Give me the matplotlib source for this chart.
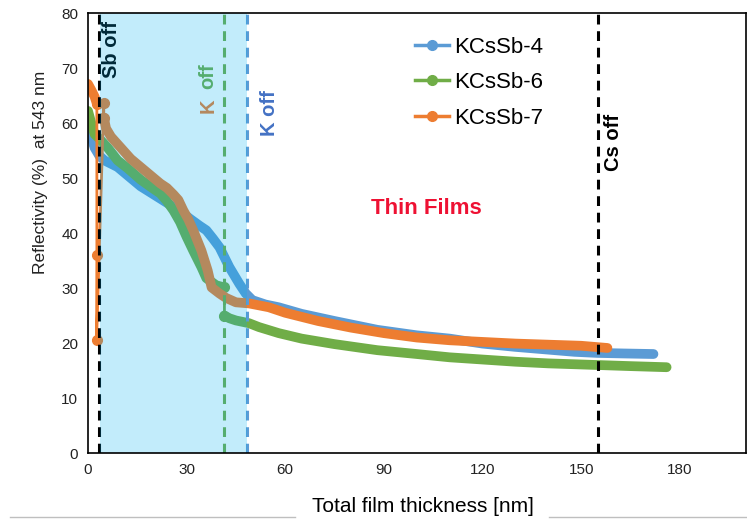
import numpy as np
import matplotlib
matplotlib.use("Agg")
import matplotlib.pyplot as plt
from matplotlib.lines import Line2D

plt.rcParams['font.family'] = ['Liberation Sans', 'DejaVu Sans']

# %%
# data
ks4_x = [0, 1, 2, 3.5, 5, 9, 12, 16, 20, 24, 28, 31, 34, 36, 38, 40, 43, 46, 48, 50,
         54, 58, 65, 75, 88, 100, 110, 120, 130, 140, 148, 155, 163, 172]
ks4_y = [59.2, 57.5, 55.5, 54, 53.2, 52, 50.5, 48.5, 47, 45.5, 44, 42.6, 41.3, 40.5, 39, 37.4, 33.8, 30.8, 29, 27.8,
         27, 26.5, 25.3, 24, 22.4, 21.4, 20.8, 19.9, 19.3, 18.8, 18.4, 18.2, 18.1, 18.0]

ks6_x = [0, 1, 2, 4, 6, 9, 12, 16, 20, 22, 24, 26, 28, 30, 32, 34.5, 36, 39, 41.5,
         41.5, 43, 45, 49, 52, 58, 65, 75, 88, 100, 110, 120, 130, 140, 155, 165, 176]
ks6_y = [62.2, 60, 58, 56.8, 55.5, 53.2, 51.8, 49.7, 48, 47.2, 45.8, 44.1, 42, 39.3, 36.8, 33.8, 31.8, 30.5, 30.1,
         25, 24.5, 24.1, 23.6, 22.9, 21.8, 20.8, 19.8, 18.7, 18, 17.4, 17, 16.6, 16.3, 16, 15.8, 15.6]
ks6_thin = [18]

ks7_x = [0, 1, 2, 2.7, 2.7, 2.6, 4.8, 4.8,
         5.5, 7, 10, 13, 16, 19, 22, 24, 26, 27.5, 29, 30.5, 32, 34.5, 36.4, 37.6, 40, 42, 45, 49,
         55, 60, 70, 80, 90, 100, 110, 120, 130, 140, 150, 158]
ks7_y = [67.1, 66, 64.8, 63.5, 36, 20.5, 63.7, 61,
         59, 57.5, 55.5, 53.5, 52, 50.5, 49, 48.2, 47, 46, 44.1, 42.5, 40.5, 36.8, 33.2, 30.1, 29, 28.2, 27.4, 27.2,
         26.5, 25.5, 24, 22.8, 21.8, 21.0, 20.5, 20.2, 19.9, 19.7, 19.5, 19.1]
ks7_thin = [3, 4, 5, 6]

labels = ['KCsSb-4', 'KCsSb-6', 'KCsSb-7']
colors = ['#5B9BD5', '#70AD47', '#ED7D31']

sb_off = 3.3
k_off_6 = 41.5
k_off_4 = 48.3
cs_off = 155.2
shade = (3.6, 48.5)

xticks = [0, 30, 60, 90, 120, 150, 180]
yticks = [0, 10, 20, 30, 40, 50, 60, 70, 80]


def band(x, y, thin):
    bx, by = [], []
    for i in range(len(x)):
        bx.append(x[i])
        by.append(y[i])
        if i in thin:
            bx.append(np.nan)
            by.append(np.nan)
    return bx, by


# %%
fig = plt.figure(figsize=(7.47, 5.25), dpi=100)
ax = fig.add_axes([0.1178, 0.1371, 0.998 - 0.1178, 0.9752 - 0.1371])

series = [(ks4_x, ks4_y, []), (ks6_x, ks6_y, ks6_thin), (ks7_x, ks7_y, ks7_thin)]
for (x, y, thin), c in zip(series, colors):
    ax.plot(x, y, color=c, lw=2, zorder=2)
    bx, by = band(x, y, thin)
    ax.plot(bx, by, color=c, lw=7, solid_capstyle='round', solid_joinstyle='round', zorder=2)
    idx = sorted(set(thin) | set(i + 1 for i in thin))
    ax.plot([x[i] for i in idx], [y[i] for i in idx], 'o', color=c, ms=7, zorder=2)

# shaded region sits on top of the curves (as in the original)
ax.axvspan(shade[0], shade[1], color='#00B0F0', alpha=0.24, lw=0, zorder=3)

dash = (3.2, 2.2)
ax.axvline(sb_off, color='black', lw=2.2, dashes=dash, zorder=2.6)
ax.axvline(k_off_6, color='#70AD47', lw=2.2, dashes=dash, zorder=2.6)
ax.axvline(k_off_4, color='#5B9BD5', lw=2.2, dashes=dash, zorder=2.6)
ax.axvline(cs_off, color='black', lw=2.2, dashes=dash, zorder=2.6)

ax.text(7.3, 78.6, 'Sb off', rotation=90, ha='center', va='top', fontsize=14.5,
        fontweight='bold', color='black', zorder=1)
ax.text(36.4, 70.8, 'off', rotation=90, ha='center', va='top', fontsize=14.5,
        fontweight='bold', color='#70AD47', zorder=1)
ax.text(36.4, 61.8, 'K', rotation=90, ha='center', va='bottom', fontsize=14.5,
        fontweight='bold', color='#ED7D31', zorder=1)
ax.text(55.2, 65.9, 'K off', rotation=90, ha='center', va='top', fontsize=14.5,
        fontweight='bold', color='#4472C4', zorder=4)
ax.text(159.7, 61.7, 'Cs off', rotation=90, ha='center', va='top', fontsize=14.5,
        fontweight='bold', color='black', zorder=4)
ax.text(103, 44.5, 'Thin Films', ha='center', va='center', fontsize=16,
        fontweight='bold', color='#EE1133', zorder=4)

ax.set_xlim(0, 200)
ax.set_ylim(0, 80)
ax.set_xticks(xticks)
ax.set_yticks(yticks)
ax.tick_params(length=0, labelsize=11, colors='#222222', pad=7)
for s in ax.spines.values():
    s.set_color('black')
    s.set_linewidth(1.2)
    s.set_zorder(5)

handles = [Line2D([], [], color=c, lw=2.5, marker='o', ms=7) for c in colors]
ax.legend(handles, labels, loc='upper left', bbox_to_anchor=(0.4976, 0.946), frameon=False,
          fontsize=16, handlelength=1.5, handletextpad=0.25, labelspacing=0.65,
          borderpad=0, borderaxespad=0)

fig.text(41 / 747, 1 - 172 / 525, 'Reflectivity (%)  at 543 nm', rotation=90,
         ha='center', va='center', fontsize=12.5, color='#222222')
fig.text(423 / 747, 1 - 507 / 525, 'Total film thickness [nm]', ha='center', va='center',
         fontsize=15, color='black')
y_sep = 1 - 517 / 525
fig.add_artist(Line2D([10 / 747, 295 / 747], [y_sep, y_sep], transform=fig.transFigure,
                      color='#BFBFBF', lw=1))
fig.add_artist(Line2D([549 / 747, 1.0], [y_sep, y_sep], transform=fig.transFigure,
                      color='#BFBFBF', lw=1))

fig.savefig('out.png', dpi=100)
